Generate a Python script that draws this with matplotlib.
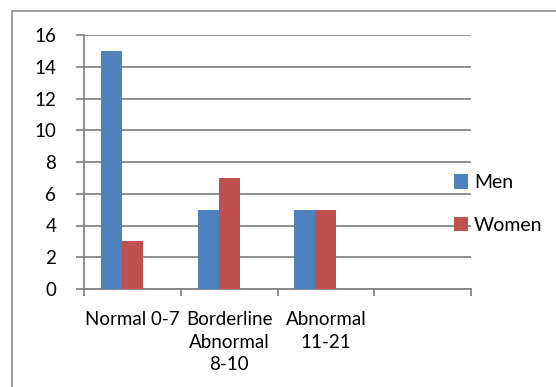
import matplotlib
matplotlib.use("Agg")
import matplotlib.pyplot as plt
from matplotlib.patches import Rectangle
import numpy as np

categories = ["Normal 0-7", "Borderline\nAbnormal\n8-10", "Abnormal\n11-21", ""]
men = [15, 5, 5, 0]
women = [3, 7, 5, 0]
series_names = ["Men", "Women"]
yticks = [0, 2, 4, 6, 8, 10, 12, 14, 16]

blue = "#4f81bd"
red = "#c0504d"
grid_c = "#868686"

plt.rcParams['font.family'] = ['Lato', 'DejaVu Sans']
W, H = 556, 387
fig = plt.figure(figsize=(W/100, H/100), dpi=100)

# outer chart border
fig.patches.append(Rectangle((12/W, -0.1), 1.2, (H-11)/H + 0.1, transform=fig.transFigure,
                             fill=False, edgecolor="#8c8c8c", linewidth=1.2))

ax = fig.add_axes([84/W, 1-289/H, (471-84)/W, (289-35)/H])
x = np.arange(len(categories))
w = 0.217
ax.bar(x - w, men, width=w, align="center", color=blue, label=series_names[0], zorder=3)
ax.bar(x, women, width=w, align="center", color=red, label=series_names[1], zorder=3)

ax.set_xlim(-0.5, len(categories) - 0.5)
ax.set_ylim(0, 16)
ax.set_yticks(yticks)
ax.set_yticklabels([str(v) for v in yticks], fontsize=13.5)
ax.yaxis.grid(True, color=grid_c, linewidth=1.3, zorder=0)
ax.set_axisbelow(True)

ax.set_xticks(np.arange(len(categories) + 1) - 0.5)
ax.set_xticklabels([])
ax.set_xticks(x, minor=True)
ax.set_xticklabels(categories, minor=True, fontsize=13.5, linespacing=1.4)
ax.tick_params(axis="x", which="minor", length=0, pad=16)
ax.tick_params(axis="x", which="major", length=5, color=grid_c, width=1.3)
ax.tick_params(axis="y", length=6, color=grid_c, width=1.3, pad=14)

for s in ["top", "right"]:
    ax.spines[s].set_visible(False)
for s in ["left", "bottom"]:
    ax.spines[s].set_color(grid_c)
    ax.spines[s].set_linewidth(1.3)

leg = ax.legend(loc="center left", bbox_to_anchor=(446/W, 1-204/H), bbox_transform=fig.transFigure,
                frameon=False, fontsize=14, handlelength=0.75, handleheight=0.75,
                handletextpad=0.3, labelspacing=1.3, borderaxespad=0)

fig.savefig("out.png", dpi=100)
